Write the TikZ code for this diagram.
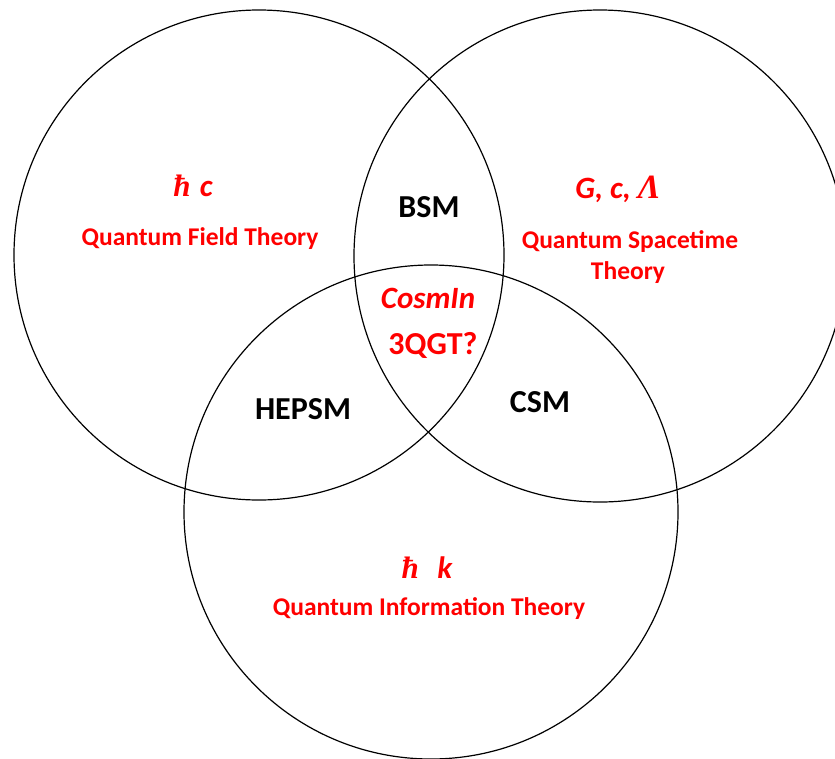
\documentclass[tikz,border=0pt]{standalone}
\usepackage{fontspec}
\setmainfont{Carlito}
\newfontfamily\serifsym{Liberation Serif}
\definecolor{labelred}{RGB}{255,0,0}
\begin{document}
\begin{tikzpicture}[x=1pt,y=-1pt,
  ring/.style={draw=black,line width=1.2pt},
  redlbl/.style={text=labelred,font=\bfseries\fontsize{25.5}{29}\selectfont,align=center,inner sep=0pt},
  redsym/.style={text=labelred,font=\bfseries\itshape\fontsize{31}{34}\selectfont,inner sep=0pt},
  blklbl/.style={text=black,font=\bfseries\fontsize{32}{36}\selectfont,inner sep=0pt}]
\useasboundingbox (0,0) rectangle (835,758);
\draw[ring] (259,255) circle (245);
\draw[ring] (600,256) circle (246);
\draw[ring] (431,512) circle (247);
\node[redsym] (hc) at (193,186) {{\serifsym ħ}\hspace{0.3em}c};
\node[redlbl] (qft) at (200,239) {Quantum Field Theory};
\node[redsym] (gcl) at (618,189) {G, c, {\serifsym\fontsize{34}{36}\selectfont Λ}};
\node[redlbl] (qst) at (630,257) {Quantum Spacetime\\[2pt]\hspace*{-4pt}Theory};
\node[redsym] (hk) at (427,568) {{\serifsym ħ}\hspace{0.6em}k};
\node[redlbl] (qit) at (429,609) {Quantum Information Theory};
\node[blklbl] (bsm) at (429,207) {BSM};
\node[redsym] (cosm) at (428,298) {CosmIn};
\node[text=labelred,font=\bfseries\fontsize{32}{36}\selectfont,inner sep=0pt] (qgt) at (433,345) {3QGT?};
\node[blklbl] (hepsm) at (303,409) {HEPSM};
\node[blklbl] (csm) at (540,402) {CSM};
\end{tikzpicture}
\end{document}
